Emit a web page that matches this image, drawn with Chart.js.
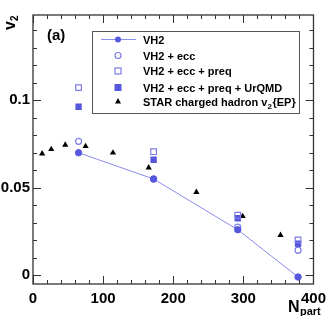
<!DOCTYPE html>
<html>
<head>
<meta charset="utf-8">
<script src="https://cdn.jsdelivr.net/npm/chart.js@4/dist/chart.umd.min.js"></script>
<style>
  html, body { margin: 0; padding: 0; background: #fff; }
  #wrap { width: 332px; height: 316px; }
</style>
</head>
<body>
<div id="wrap"><canvas id="c" width="332" height="316"></canvas></div>
<script>
// N_part of the model points
const npartModel = [65, 172, 292, 378];
const vh2 = [0.070, 0.055, 0.026, -0.001];
const vh2Ecc = [0.0765, 0.055, 0.0275, 0.0143];
const vh2Preq = [0.1072, 0.0706, 0.0343, 0.0202];
const vh2UrQMD = [0.0963, 0.066, 0.0326, 0.018];

// STAR charged hadron v2{EP}
const npartStar = [13, 26, 46, 75, 114, 165, 233, 299, 353];
const v2Star = [0.0695, 0.072, 0.0745, 0.0737, 0.070, 0.0615, 0.0475, 0.0337, 0.0229];

const xMajor = [0, 100, 200, 300, 400];
const yMajor = [0, 0.05, 0.1];

const blue = '#5757dd';
const lightBlue = '#7d7de6';
const lineBlue = '#8a8af0';
const font = "'Liberation Sans', Arial, sans-serif";

function pts(xs, ys) {
    return xs.map(function (x, i) { return { x: x, y: ys[i] }; });
}

// frame, minor ticks, legend and axis titles
const decor = {
    id: 'decor',
    afterDraw: function (chart) {
        const ctx = chart.ctx;
        const a = chart.chartArea;
        const xs = chart.scales.x, ys = chart.scales.y;
        ctx.save();
        ctx.strokeStyle = '#333';
        ctx.lineWidth = 1.3;
        ctx.strokeRect(a.left, a.top, a.right - a.left, a.bottom - a.top);

        ctx.lineWidth = 1;
        // x ticks every 20, major every 100
        for (let v = 0; v <= 400; v += 20) {
            const px = Math.round(xs.getPixelForValue(v)) + 0.5;
            const len = v % 100 === 0 ? 8 : 4;
            ctx.beginPath();
            ctx.moveTo(px, a.bottom); ctx.lineTo(px, a.bottom - len);
            ctx.moveTo(px, a.top); ctx.lineTo(px, a.top + len);
            ctx.stroke();
        }
        // y ticks every 0.01, major every 0.05
        for (let k = 0; k <= 14; k++) {
            const v = k * 0.01;
            const py = Math.round(ys.getPixelForValue(v)) + 0.5;
            const len = k % 5 === 0 ? 8 : 4;
            ctx.beginPath();
            ctx.moveTo(a.left, py); ctx.lineTo(a.left + len, py);
            ctx.moveTo(a.right, py); ctx.lineTo(a.right - len, py);
            ctx.stroke();
        }

        // (a)
        ctx.fillStyle = '#000';
        ctx.font = 'bold 15px ' + font;
        ctx.textBaseline = 'alphabetic';
        ctx.textAlign = 'left';
        ctx.fillText('(a)', 47, 40);

        // x title N_part
        ctx.font = 'bold 16px ' + font;
        ctx.fillText('N', 288, 312);
        ctx.font = 'bold 11px ' + font;
        ctx.fillText('part', 300, 315);

        // y title v_2 rotated
        ctx.save();
        ctx.translate(15, 30);
        ctx.rotate(-Math.PI / 2);
        ctx.font = 'bold 16px ' + font;
        ctx.fillText('v', 0, 0);
        ctx.font = 'bold 10px ' + font;
        ctx.fillText('2', 9, 3);
        ctx.restore();

        // legend
        const lx = 92, ly = 31, lw = 207, lh = 82;
        ctx.fillStyle = '#fff';
        ctx.fillRect(lx, ly, lw, lh);
        ctx.strokeStyle = '#555';
        ctx.lineWidth = 1;
        ctx.strokeRect(lx + 0.5, ly + 0.5, lw, lh);

        const rows = [39.5, 55.5, 71, 87.5, 101.5];
        const mx = 118;
        // VH2 line + dot
        ctx.strokeStyle = lineBlue;
        ctx.beginPath(); ctx.moveTo(101, rows[0]); ctx.lineTo(136, rows[0]); ctx.stroke();
        ctx.fillStyle = blue;
        ctx.beginPath(); ctx.arc(mx, rows[0], 3, 0, Math.PI * 2); ctx.fill();
        // open circle
        ctx.strokeStyle = lightBlue;
        ctx.lineWidth = 1.2;
        ctx.beginPath(); ctx.arc(mx, rows[1], 3, 0, Math.PI * 2); ctx.stroke();
        // open square
        ctx.strokeRect(mx - 3, rows[2] - 3, 6, 6);
        // filled square
        ctx.fillRect(mx - 3.5, rows[3] - 3.5, 7, 7);
        // triangle
        ctx.fillStyle = '#000';
        ctx.beginPath();
        ctx.moveTo(mx, rows[4] - 3.5); ctx.lineTo(mx + 3, rows[4] + 2); ctx.lineTo(mx - 3, rows[4] + 2);
        ctx.closePath(); ctx.fill();

        ctx.fillStyle = '#000';
        ctx.font = 'bold 11px ' + font;
        ctx.textBaseline = 'middle';
        const labels = ['VH2', 'VH2 + ecc', 'VH2 + ecc + preq', 'VH2 + ecc + preq + UrQMD'];
        labels.forEach(function (t, i) { ctx.fillText(t, 143, rows[i] + 1); });
        const s = 'STAR charged hadron v';
        ctx.fillText(s, 143, rows[4] + 1);
        const w = ctx.measureText(s).width;
        ctx.font = 'bold 8px ' + font;
        ctx.fillText('2', 143 + w, rows[4] + 5);
        ctx.font = 'bold 11px ' + font;
        ctx.fillText('{EP}', 143 + w + 5, rows[4] + 1);
        ctx.restore();
    }
};

new Chart(document.getElementById('c'), {
    type: 'scatter',
    data: {
        datasets: [
            {
                label: 'VH2',
                data: pts(npartModel, vh2),
                showLine: true,
                borderColor: lineBlue,
                borderWidth: 1,
                backgroundColor: blue,
                pointBackgroundColor: blue,
                pointBorderColor: blue,
                pointRadius: 3.2,
                order: 1
            },
            {
                label: 'VH2 + ecc',
                data: pts(npartModel, vh2Ecc),
                pointStyle: 'circle',
                backgroundColor: 'rgba(0,0,0,0)',
                borderColor: lightBlue,
                borderWidth: 1.2,
                pointRadius: 3,
                order: 2
            },
            {
                label: 'VH2 + ecc + preq',
                data: pts(npartModel, vh2Preq),
                pointStyle: 'rect',
                backgroundColor: 'rgba(0,0,0,0)',
                borderColor: lightBlue,
                borderWidth: 1.2,
                pointRadius: 4,
                order: 3
            },
            {
                label: 'VH2 + ecc + preq + UrQMD',
                data: pts(npartModel, vh2UrQMD),
                pointStyle: 'rect',
                backgroundColor: blue,
                borderColor: blue,
                borderWidth: 0,
                pointRadius: 4.5,
                order: 4
            },
            {
                label: 'STAR charged hadron v2{EP}',
                data: pts(npartStar, v2Star),
                pointStyle: 'triangle',
                backgroundColor: '#000',
                borderColor: '#000',
                borderWidth: 0,
                pointRadius: 3.6,
                order: 5
            }
        ]
    },
    options: {
        responsive: false,
        animation: false,
        devicePixelRatio: 1,
        layout: { padding: { top: 15, right: 17, left: 0, bottom: 0 } },
        plugins: { legend: { display: false }, tooltip: { enabled: false } },
        scales: {
            x: {
                type: 'linear',
                min: 0,
                max: 400,
                grid: { display: false, drawTicks: false },
                border: { display: false },
                afterBuildTicks: function (axis) {
                    axis.ticks = xMajor.map(function (v) { return { value: v }; });
                },
                afterFit: function (axis) { axis.height = 32; },
                ticks: {
                    padding: 6,
                    maxRotation: 0,
                    color: '#000',
                    font: { family: font, size: 15, weight: 'bold' },
                    callback: function (v) { return String(v); }
                }
            },
            y: {
                type: 'linear',
                min: -0.005,
                max: 0.1487,
                grid: { display: false, drawTicks: false },
                border: { display: false },
                afterBuildTicks: function (axis) {
                    axis.ticks = yMajor.map(function (v) { return { value: v }; });
                },
                afterFit: function (axis) { axis.width = 33; },
                ticks: {
                    padding: 3,
                    color: '#000',
                    font: { family: font, size: 15, weight: 'bold' },
                    callback: function (v) { return String(v); }
                }
            }
        }
    },
    plugins: [decor]
});
</script>
</body>
</html>
